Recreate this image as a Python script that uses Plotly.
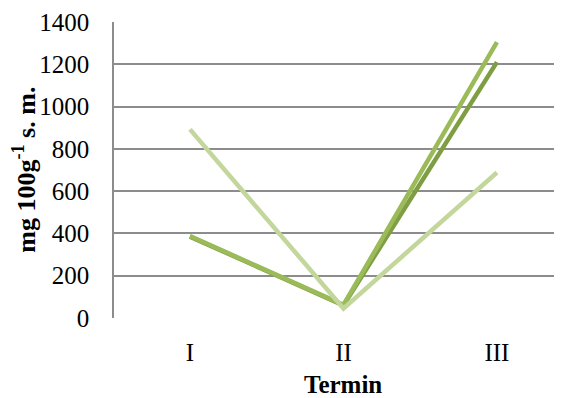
import plotly.graph_objects as go

categories = ["I", "II", "III"]
series_a = [385, 60, 1210]   # dark green
series_b = [388, 62, 1305]   # medium green
series_c = [892, 45, 688]    # light green
y_ticks = [0, 200, 400, 600, 800, 1000, 1200, 1400]

colors = ["#7f9e43", "#9bbb59", "#c3d69b"]
font_family = "Liberation Serif, Times New Roman, serif"

fig = go.Figure()
for vals, col in zip([series_a, series_b, series_c], colors):
    fig.add_trace(go.Scatter(
        x=[0, 1, 2], y=vals, mode="lines",
        line=dict(color=col, width=4.5),
        showlegend=False, hoverinfo="skip",
    ))

# page has an 8px body margin; gridlines run off the right edge as in the reference
fig.update_layout(
    width=562, height=390,
    margin=dict(l=106, r=0, t=14, b=80),
    paper_bgcolor="white", plot_bgcolor="white",
    font=dict(family=font_family, color="black", size=25),
    annotations=[
        dict(text="<b>Termin</b>", xref="paper", yref="paper",
             x=0.503, y=-0.226, xanchor="center", yanchor="middle",
             showarrow=False, font=dict(size=25)),
        dict(text="<b>mg 100g<sup>-1</sup> s. m.</b>", xref="paper", yref="paper",
             x=-0.198, y=0.5, xanchor="center", yanchor="middle",
             textangle=-90, showarrow=False, font=dict(size=26)),
    ],
)
fig.update_xaxes(
    automargin=False,
    range=[-0.495, 2.476],
    tickmode="array", tickvals=[0, 1, 2], ticktext=categories,
    showgrid=False, zeroline=False, showline=False,
    ticks="outside", ticklen=12, tickcolor="rgba(0,0,0,0)",
    tickfont=dict(size=25),
)
fig.update_yaxes(
    automargin=False,
    range=[0, 1400],
    tickmode="array", tickvals=y_ticks,
    showgrid=True, gridcolor="#8c8c8c", gridwidth=1.5,
    zeroline=False, showline=True, linecolor="#8c8c8c", linewidth=1.5,
    ticks="outside", ticklen=18, tickcolor="rgba(0,0,0,0)",
    tickfont=dict(size=25),
)

fig.write_html("out.html")
